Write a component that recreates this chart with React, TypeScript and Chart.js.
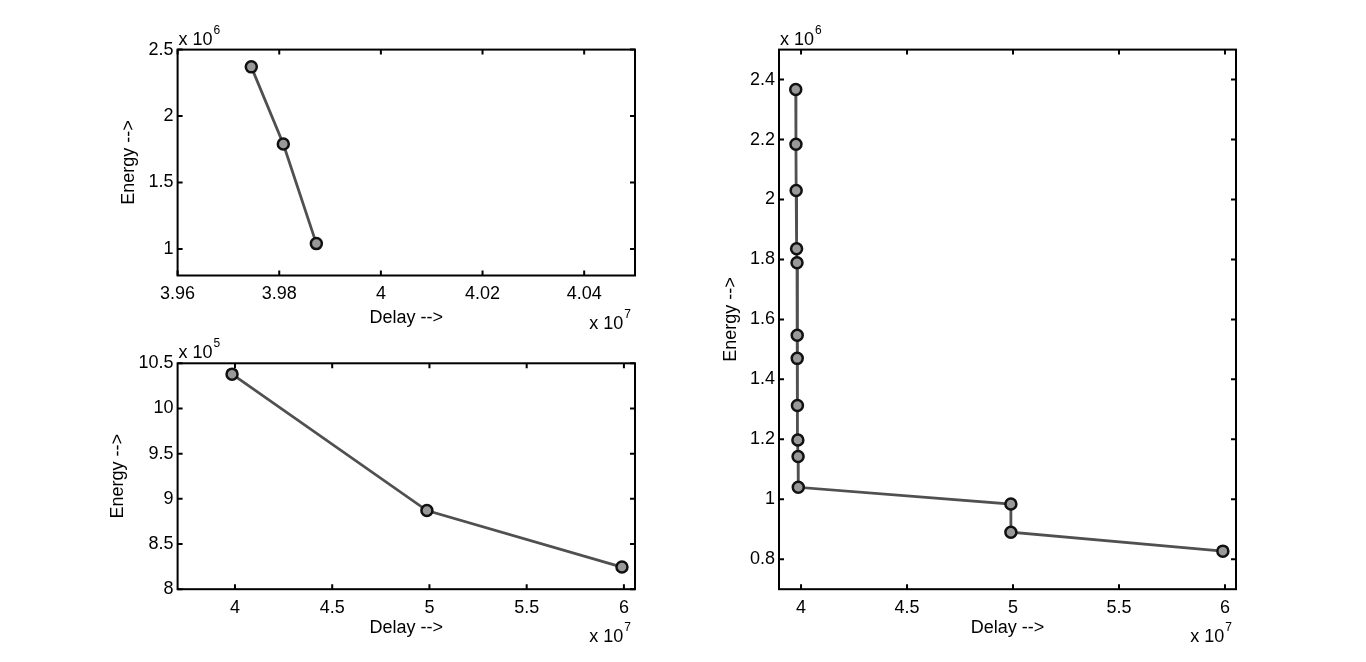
import React, { useEffect, useRef } from "react";
import { Chart, registerables } from "chart.js";

Chart.register(...registerables);

const W = 1366;
const H = 662;
const FONT = "'Liberation Sans', Arial, Helvetica, sans-serif";
const FS = 18;

// ---- Top-left subplot (Delay x 10^7, Energy x 10^6)
const tlDelay = [3.9745, 3.9808, 3.9873];
const tlEnergy = [2.37, 1.79, 1.04];
const tlXTicks = [3.96, 3.98, 4, 4.02, 4.04];
const tlYTicks = [1, 1.5, 2, 2.5];

// ---- Bottom-left subplot (Delay x 10^7, Energy x 10^5)
const blDelay = [3.985, 4.987, 5.99];
const blEnergy = [10.38, 8.87, 8.245];
const blXTicks = [4, 4.5, 5, 5.5, 6];
const blYTicks = [8, 8.5, 9, 9.5, 10, 10.5];

// ---- Right subplot (Delay x 10^7, Energy x 10^6)
const rDelay = [3.975, 3.976, 3.977, 3.979, 3.981, 3.982, 3.982, 3.983, 3.985, 3.986, 3.987, 4.99, 4.99, 5.99];
const rEnergy = [2.367, 2.184, 2.03, 1.836, 1.789, 1.547, 1.47, 1.313, 1.198, 1.143, 1.04, 0.984, 0.89, 0.827];
const rXTicks = [4, 4.5, 5, 5.5, 6];
const rYTicks = [0.8, 1, 1.2, 1.4, 1.6, 1.8, 2, 2.2, 2.4];

const xTitle = "Delay -->";
const yTitle = "Energy -->";

type Spec = {
  xs: number[];
  ys: number[];
  xTicks: number[];
  yTicks: number[];
  xMin: number;
  xMax: number;
  yMin: number;
  yMax: number;
  area: { left: number; top: number; right: number; bottom: number };
  xExp: string;
  yExp: string;
  yTitlePad: number;
  xTitlePad: number;
};

const Y_W = 80;
const X_H = 60;

function drawExp(ctx: CanvasRenderingContext2D, exp: string, x: number, baseline: number, align: string) {
  const base = "x 10";
  ctx.font = `${FS}px ${FONT}`;
  const bw = ctx.measureText(base).width;
  ctx.font = `12px ${FONT}`;
  const ew = ctx.measureText(exp).width;
  const start = align === "left" ? x : x - bw - ew - 1;
  ctx.textAlign = "left";
  ctx.textBaseline = "alphabetic";
  ctx.font = `${FS}px ${FONT}`;
  ctx.fillText(base, start, baseline);
  ctx.font = `12px ${FONT}`;
  ctx.fillText(exp, start + bw + 1, baseline - 11);
}

const matlabAxes = {
  id: "matlabAxes",
  afterDraw(chart: any, _args: any, opts: any) {
    const { ctx, chartArea: a, scales } = chart;
    const xs = scales.x;
    const ys = scales.y;
    ctx.save();
    ctx.strokeStyle = "#000";
    ctx.lineWidth = 2;
    ctx.strokeRect(a.left, a.top, a.right - a.left, a.bottom - a.top);
    const L = 5;
    ctx.beginPath();
    xs.ticks.forEach((t: any) => {
      const px = xs.getPixelForValue(t.value);
      ctx.moveTo(px, a.bottom);
      ctx.lineTo(px, a.bottom - L);
      ctx.moveTo(px, a.top);
      ctx.lineTo(px, a.top + L);
    });
    ys.ticks.forEach((t: any) => {
      const py = ys.getPixelForValue(t.value);
      ctx.moveTo(a.left, py);
      ctx.lineTo(a.left + L, py);
      ctx.moveTo(a.right, py);
      ctx.lineTo(a.right - L, py);
    });
    ctx.stroke();
    ctx.fillStyle = "#000";
    drawExp(ctx, opts.yExp, a.left + 1, a.top - 5, "left");
    drawExp(ctx, opts.xExp, a.right - 4, a.bottom + 53, "right");
    ctx.restore();
  },
};

function makeConfig(s: Spec): any {
  const font = { family: FONT, size: FS };
  return {
    type: "scatter",
    data: {
      datasets: [
        {
          data: s.xs.map((x, i) => ({ x, y: s.ys[i] })),
          showLine: true,
          borderColor: "#505050",
          borderWidth: 2.8,
          pointRadius: 5.5,
          pointBorderWidth: 2.5,
          pointBorderColor: "#111",
          pointBackgroundColor: "#999999",
          clip: false,
        },
      ],
    },
    options: {
      responsive: false,
      animation: false,
      events: [],
      layout: {
        padding: {
          left: s.area.left - Y_W,
          top: s.area.top,
          right: W - s.area.right,
          bottom: H - s.area.bottom - X_H,
        },
      },
      plugins: {
        legend: { display: false },
        tooltip: { enabled: false },
        matlabAxes: { xExp: s.xExp, yExp: s.yExp },
      },
      scales: {
        x: {
          type: "linear",
          min: s.xMin,
          max: s.xMax,
          afterBuildTicks: (sc: any) => {
            sc.ticks = s.xTicks.map((v) => ({ value: v }));
          },
          afterFit: (sc: any) => {
            sc.height = X_H;
          },
          grid: { display: false, drawTicks: false },
          border: { display: false },
          ticks: {
            autoSkip: false,
            maxRotation: 0,
            padding: 8,
            color: "#000",
            font,
            callback: (v: any) => String(v),
          },
          title: {
            display: true,
            text: xTitle,
            color: "#000",
            font,
            padding: { top: 0, bottom: s.xTitlePad },
          },
        },
        y: {
          type: "linear",
          min: s.yMin,
          max: s.yMax,
          afterBuildTicks: (sc: any) => {
            sc.ticks = s.yTicks.map((v) => ({ value: v }));
          },
          afterFit: (sc: any) => {
            sc.width = Y_W;
          },
          grid: { display: false, drawTicks: false },
          border: { display: false },
          ticks: {
            autoSkip: false,
            padding: 4,
            color: "#000",
            font,
            callback: (v: any) => String(v),
          },
          title: {
            display: true,
            text: yTitle,
            color: "#000",
            font,
            padding: { top: s.yTitlePad, bottom: 0 },
          },
        },
      },
    },
    plugins: [matlabAxes],
  };
}

const specs: Spec[] = [
  {
    xs: tlDelay,
    ys: tlEnergy,
    xTicks: tlXTicks,
    yTicks: tlYTicks,
    xMin: 3.96,
    xMax: 4.05,
    yMin: 0.8,
    yMax: 2.5,
    area: { left: 177.6, top: 49.6, right: 635, bottom: 275.5 },
    xExp: "7",
    yExp: "6",
    yTitlePad: 21,
    xTitlePad: 6.7,
  },
  {
    xs: blDelay,
    ys: blEnergy,
    xTicks: blXTicks,
    yTicks: blYTicks,
    xMin: 3.705,
    xMax: 6.057,
    yMin: 8,
    yMax: 10.5,
    area: { left: 177.6, top: 363.3, right: 635, bottom: 589.2 },
    xExp: "7",
    yExp: "5",
    yTitlePad: 9.6,
    xTitlePad: 10.2,
  },
  {
    xs: rDelay,
    ys: rEnergy,
    xTicks: rXTicks,
    yTicks: rYTicks,
    xMin: 3.896,
    xMax: 6.052,
    yMin: 0.7,
    yMax: 2.5,
    area: { left: 779, top: 49.6, right: 1236, bottom: 589.2 },
    xExp: "7",
    yExp: "6",
    yTitlePad: 21.2,
    xTitlePad: 10.2,
  },
];

function Plot({ spec }: { spec: Spec }) {
  const ref = useRef<HTMLCanvasElement | null>(null);
  useEffect(() => {
    if (!ref.current) return;
    const chart = new Chart(ref.current, makeConfig(spec));
    return () => chart.destroy();
  }, [spec]);
  return (
    <canvas
      ref={ref}
      width={W}
      height={H}
      style={{ position: "absolute", left: 0, top: 0, width: W, height: H }}
    />
  );
}

export default function App() {
  return (
    <div style={{ position: "absolute", left: 0, top: 0, width: W, height: H, background: "#fff", overflow: "hidden" }}>
      {specs.map((s, i) => (
        <Plot key={i} spec={s} />
      ))}
    </div>
  );
}
